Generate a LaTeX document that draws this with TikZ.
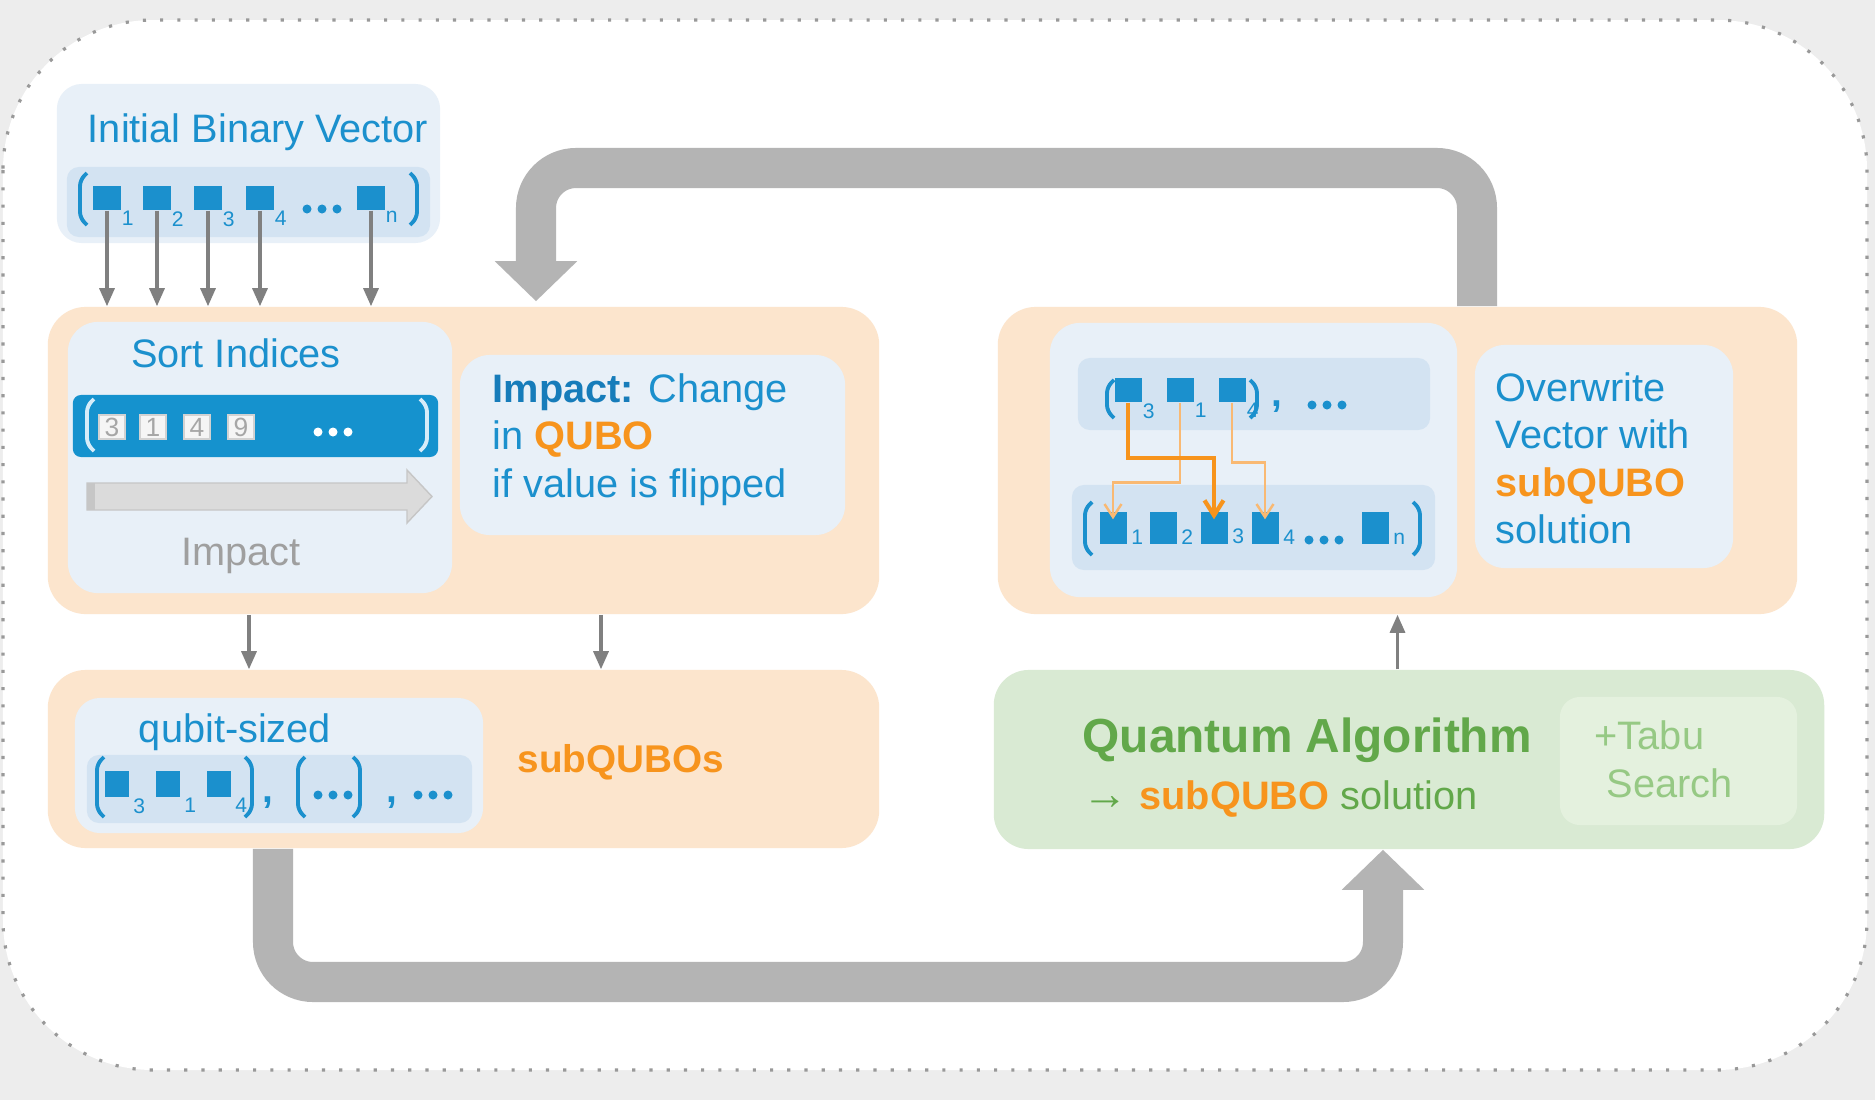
\documentclass[tikz,border=0pt]{standalone}
\usepackage{fontspec}
\setmainfont{Liberation Sans}
\usetikzlibrary{arrows.meta,calc}

\definecolor{qblue}{RGB}{27,144,205}
\definecolor{qdblue}{RGB}{22,124,186}
\definecolor{barblue}{RGB}{21,146,206}
\definecolor{barline}{RGB}{214,236,249}
\definecolor{qorange}{RGB}{247,148,29}
\definecolor{qlorange}{RGB}{249,185,115}
\definecolor{peach}{RGB}{252,229,205}
\definecolor{paleblue}{RGB}{232,240,248}
\definecolor{bandblue}{RGB}{211,227,242}
\definecolor{qgreen}{RGB}{98,168,74}
\definecolor{palegreen}{RGB}{217,234,211}
\definecolor{tabugreen}{RGB}{228,241,222}
\definecolor{tabutext}{RGB}{150,201,132}
\definecolor{loopgray}{RGB}{180,180,180}
\definecolor{thingray}{RGB}{128,128,128}
\definecolor{bggray}{RGB}{237,237,237}

\newcommand{\brakL}[4]{\draw[#4, line width=1.1pt, rounded corners=0.06cm] (#1+7,#2) -- (#1,#2+7) -- (#1,#3-7) -- (#1+7,#3);}
\newcommand{\brakR}[4]{\draw[#4, line width=1.1pt, rounded corners=0.06cm] (#1-7,#2) -- (#1,#2+7) -- (#1,#3-7) -- (#1-7,#3);}
\newcommand{\dotrow}[3]{\foreach \dx in {-15,0,15} \fill[#3] (#1+\dx,#2) circle (0.045cm);}

\tikzset{
    outerframe/.style={fill=white, draw=gray!80, line width=0.9pt, dash pattern=on 0.9pt off 4pt, rounded corners=1.5cm},
    grp/.style={fill=peach, rounded corners=0.38cm, inner sep=0pt},
    pane/.style={fill=paleblue, rounded corners=0.3cm, inner sep=0pt},
    band/.style={fill=bandblue, rounded corners=0.12cm, inner sep=0pt},
    bit/.style={fill=qblue, inner sep=0pt, minimum width=0.27cm, minimum height=0.24cm},
    sub/.style={text=qblue, font=\fontsize{6}{6}\selectfont, inner sep=0pt, anchor=north west},
    idx/.style={fill=gray!8, draw=gray!35, line width=0.3pt, text=gray!70, font=\fontsize{7.5}{7.5}\selectfont, inner sep=0pt, minimum width=0.26cm, minimum height=0.24cm},
    lbl/.style={text=qblue, font=\fontsize{11.3}{13.5}\selectfont, inner sep=0pt},
    comma/.style={text=qblue, font=\fontsize{11}{11}\selectfont\bfseries, inner sep=0pt},
    feed/.style={draw=thingray, line width=0.9pt, -{Triangle[length=1.8mm,width=1.5mm]}},
    bigloop/.style={draw=loopgray, line width=0.4cm, rounded corners=0.4cm, -{Triangle[length=0.4cm,width=0.8cm]}},
    swaplight/.style={draw=qlorange, line width=0.7pt, -{Straight Barb[length=1.3mm,width=1.7mm]}},
    swapdark/.style={draw=qorange, line width=1.2pt, -{Straight Barb[length=1.5mm,width=1.9mm]}}
}

\begin{document}
\begin{tikzpicture}[x=0.01cm, y=-0.01cm]

        \useasboundingbox (0,0) rectangle (1875,1100);
        \fill[bggray] (0,0) rectangle (1875,1100);
        \draw[outerframe] (3,20) rectangle (1867,1070);

        \node[grp, minimum width=8.31cm, minimum height=3.07cm] (impgroup) at (463.5,460.5) {};
        \node[grp, minimum width=8.31cm, minimum height=1.78cm] (subgroup) at (463.5,759) {};
        \node[grp, minimum width=7.99cm, minimum height=3.07cm] (overgroup) at (1397.5,460.5) {};
        \node[grp, fill=palegreen, rounded corners=0.35cm, minimum width=8.30cm, minimum height=1.79cm] (qabox) at (1409,759.5) {};

        \node[pane, rounded corners=0.25cm, minimum width=3.83cm, minimum height=1.59cm] (initbox) at (248.5,163.5) {};
        \node[band, minimum width=3.63cm, minimum height=0.70cm] (initband) at (248.5,202) {};
        \node[lbl, anchor=base] (inittitle) at (258,142) {Initial Binary Vector};
        \brakL{80}{173}{225}{qblue}
        \brakR{417}{173}{225}{qblue}
        \foreach \x/\s [count=\i] in {107/1,157/2,208/3,260/4,371/n}{
            \node[bit] (iv\i) at (\x,198) {};
            \node[sub] (ivs\i) at (iv\i.south east) {\s};
        }
        \dotrow{322}{209}{qblue}
        \foreach \i in {1,...,5}
            \draw[feed] (iv\i.south) -- (iv\i.south |- impgroup.north);

        \node[pane, minimum width=3.84cm, minimum height=2.71cm] (sortbox) at (260,457.5) {};
        \node[lbl, anchor=base] (sorttitle) at (236,367) {Sort Indices};
        \node[fill=barblue, rounded corners=0.08cm, minimum width=3.65cm, minimum height=0.62cm, inner sep=0pt] (sortbar) at (255.5,426) {};
        \brakL{87}{399}{451}{barline}
        \brakR{427}{399}{451}{barline}
        \foreach \x/\v [count=\i] in {112/3,153/1,197/4,241/9}
            \node[idx] (si\i) at (\x,427) {\v};
        \dotrow{333}{432}{white}
        \filldraw[fill=gray!28, draw=gray!45, line width=0.4pt] (87,483) -- (407,483) -- (407,470) -- (432,496.5) -- (407,523) -- (407,510) -- (87,510) -- cycle;
        \fill[gray!45] (87,483) rectangle (95,510);
        \node[lbl, text=gray!75, anchor=base] (impactlbl) at (241,565) {Impact};

        \node[pane, minimum width=3.85cm, minimum height=1.80cm] (impbox) at (652.5,445) {};
        \node[lbl, anchor=north west, align=left] (imptext) at (492,373) {{\bfseries\color{qdblue}Impact:} Change\\in {\bfseries\color{qorange}QUBO}\\if value is flipped};

        \coordinate (fa) at (249,0);
        \coordinate (fb) at (601,0);
        \draw[feed] (impgroup.south -| fa) -- (subgroup.north -| fa);
        \draw[feed] (impgroup.south -| fb) -- (subgroup.north -| fb);

        \node[pane, rounded corners=0.25cm, minimum width=4.08cm, minimum height=1.35cm] (qubitbox) at (279,765.5) {};
        \node[band, minimum width=3.85cm, minimum height=0.68cm] (qubitband) at (279.5,789) {};
        \node[lbl, anchor=base] (qubittitle) at (235,742) {qubit-sized};
        \brakL{97}{757}{817}{qblue}
        \foreach \x/\s [count=\i] in {117/3,168/1,219/4}{
            \node[bit, minimum width=0.23cm, minimum height=0.26cm] (qb\i) at (\x,784) {};
            \node[sub] (qbs\i) at ([xshift=1pt]qb\i.south east) {\s};
        }
        \brakR{252}{757}{817}{qblue}
        \node[comma] (qc1) at (268,803) {,};
        \brakL{298}{757}{817}{qblue}
        \dotrow{333}{795}{qblue}
        \brakR{360}{757}{817}{qblue}
        \node[comma] (qc2) at (392,803) {,};
        \dotrow{433}{795}{qblue}
        \node[lbl, text=qorange, font=\fontsize{11}{13}\selectfont\bfseries, anchor=base west] (subqubos) at (517,772) {subQUBOs};

        \node[pane, minimum width=4.07cm, minimum height=2.74cm] (vecbox) at (1253.5,460) {};
        \node[band, minimum width=3.52cm, minimum height=0.72cm] (topband) at (1254,394) {};
        \node[band, minimum width=3.63cm, minimum height=0.85cm] (botband) at (1253.5,527.5) {};
        \brakL{1107}{380}{418}{qblue}
        \foreach \x/\s [count=\i] in {1128/3,1180/1,1232/4}{
            \node[bit] (tb\i) at (\x,390) {};
            \node[sub] (tbs\i) at (tb\i.south east) {\s};
        }
        \brakR{1257}{380}{418}{qblue}
        \node[comma] (tc) at (1277,407) {,};
        \dotrow{1327}{405}{qblue}
        \brakL{1085}{502}{555}{qblue}
        \foreach \x/\s [count=\i] in {1113/1,1163/2,1214/3,1265/4,1375/n}{
            \node[bit, minimum height=0.32cm] (bb\i) at (\x,528) {};
            \node[sub, anchor=south west] (bbs\i) at ([xshift=1pt]bb\i.south east) {\s};
        }
        \dotrow{1324}{540}{qblue}
        \brakR{1420}{502}{555}{qblue}
        \draw[swaplight] (tb2.south) -- ++(0,80) -| ($(bb1.north)+(0,8)$);
        \draw[swaplight] (tb3.south) -- ++(0,60) -| ($(bb4.north)+(0,8)$);
        \draw[swapdark] (tb1.south) -- ++(0,55) -| ($(bb3.north)+(0,8)$);

        \node[pane, minimum width=2.58cm, minimum height=2.23cm] (overbox) at (1604,456.5) {};
        \node[lbl, anchor=north west, align=left] (overtext) at (1495,372) {Overwrite\\Vector with\\{\bfseries\color{qorange}subQUBO}\\solution};

        \draw[feed] (qabox.north -| overgroup.south) -- (overgroup.south);

        \node[lbl, text=qgreen, font=\fontsize{13.6}{16}\selectfont\bfseries, anchor=base west] (qatitle) at (1082,752) {Quantum Algorithm};
        \node[lbl, text=qgreen, anchor=base west] (qasol) at (1082,809) {{\bfseries\fontsize{13}{13}\selectfont →} {\bfseries\color{qorange}subQUBO} solution};
        \node[fill=tabugreen, rounded corners=0.2cm, minimum width=2.37cm, minimum height=1.28cm, inner sep=0pt] (tabubox) at (1678.5,761) {};
        \node[lbl, text=tabutext, anchor=base west] (tabu1) at (1594,749) {+Tabu};
        \node[lbl, text=tabutext, anchor=base west] (tabu2) at (1606,797) {Search};

        \coordinate (tr) at (1477,168);
        \coordinate (tl) at (536,168);
        \draw[bigloop] (overgroup.north -| tr) -- (tr) -- (tl) -- ($(impgroup.north -| tl)+(0,-5)$);

        \coordinate (bl) at (273,982);
        \coordinate (br) at (1383,982);
        \draw[bigloop] (subgroup.south -| bl) -- (bl) -- (br) -- (qabox.south -| br);

\end{tikzpicture}
\end{document}
